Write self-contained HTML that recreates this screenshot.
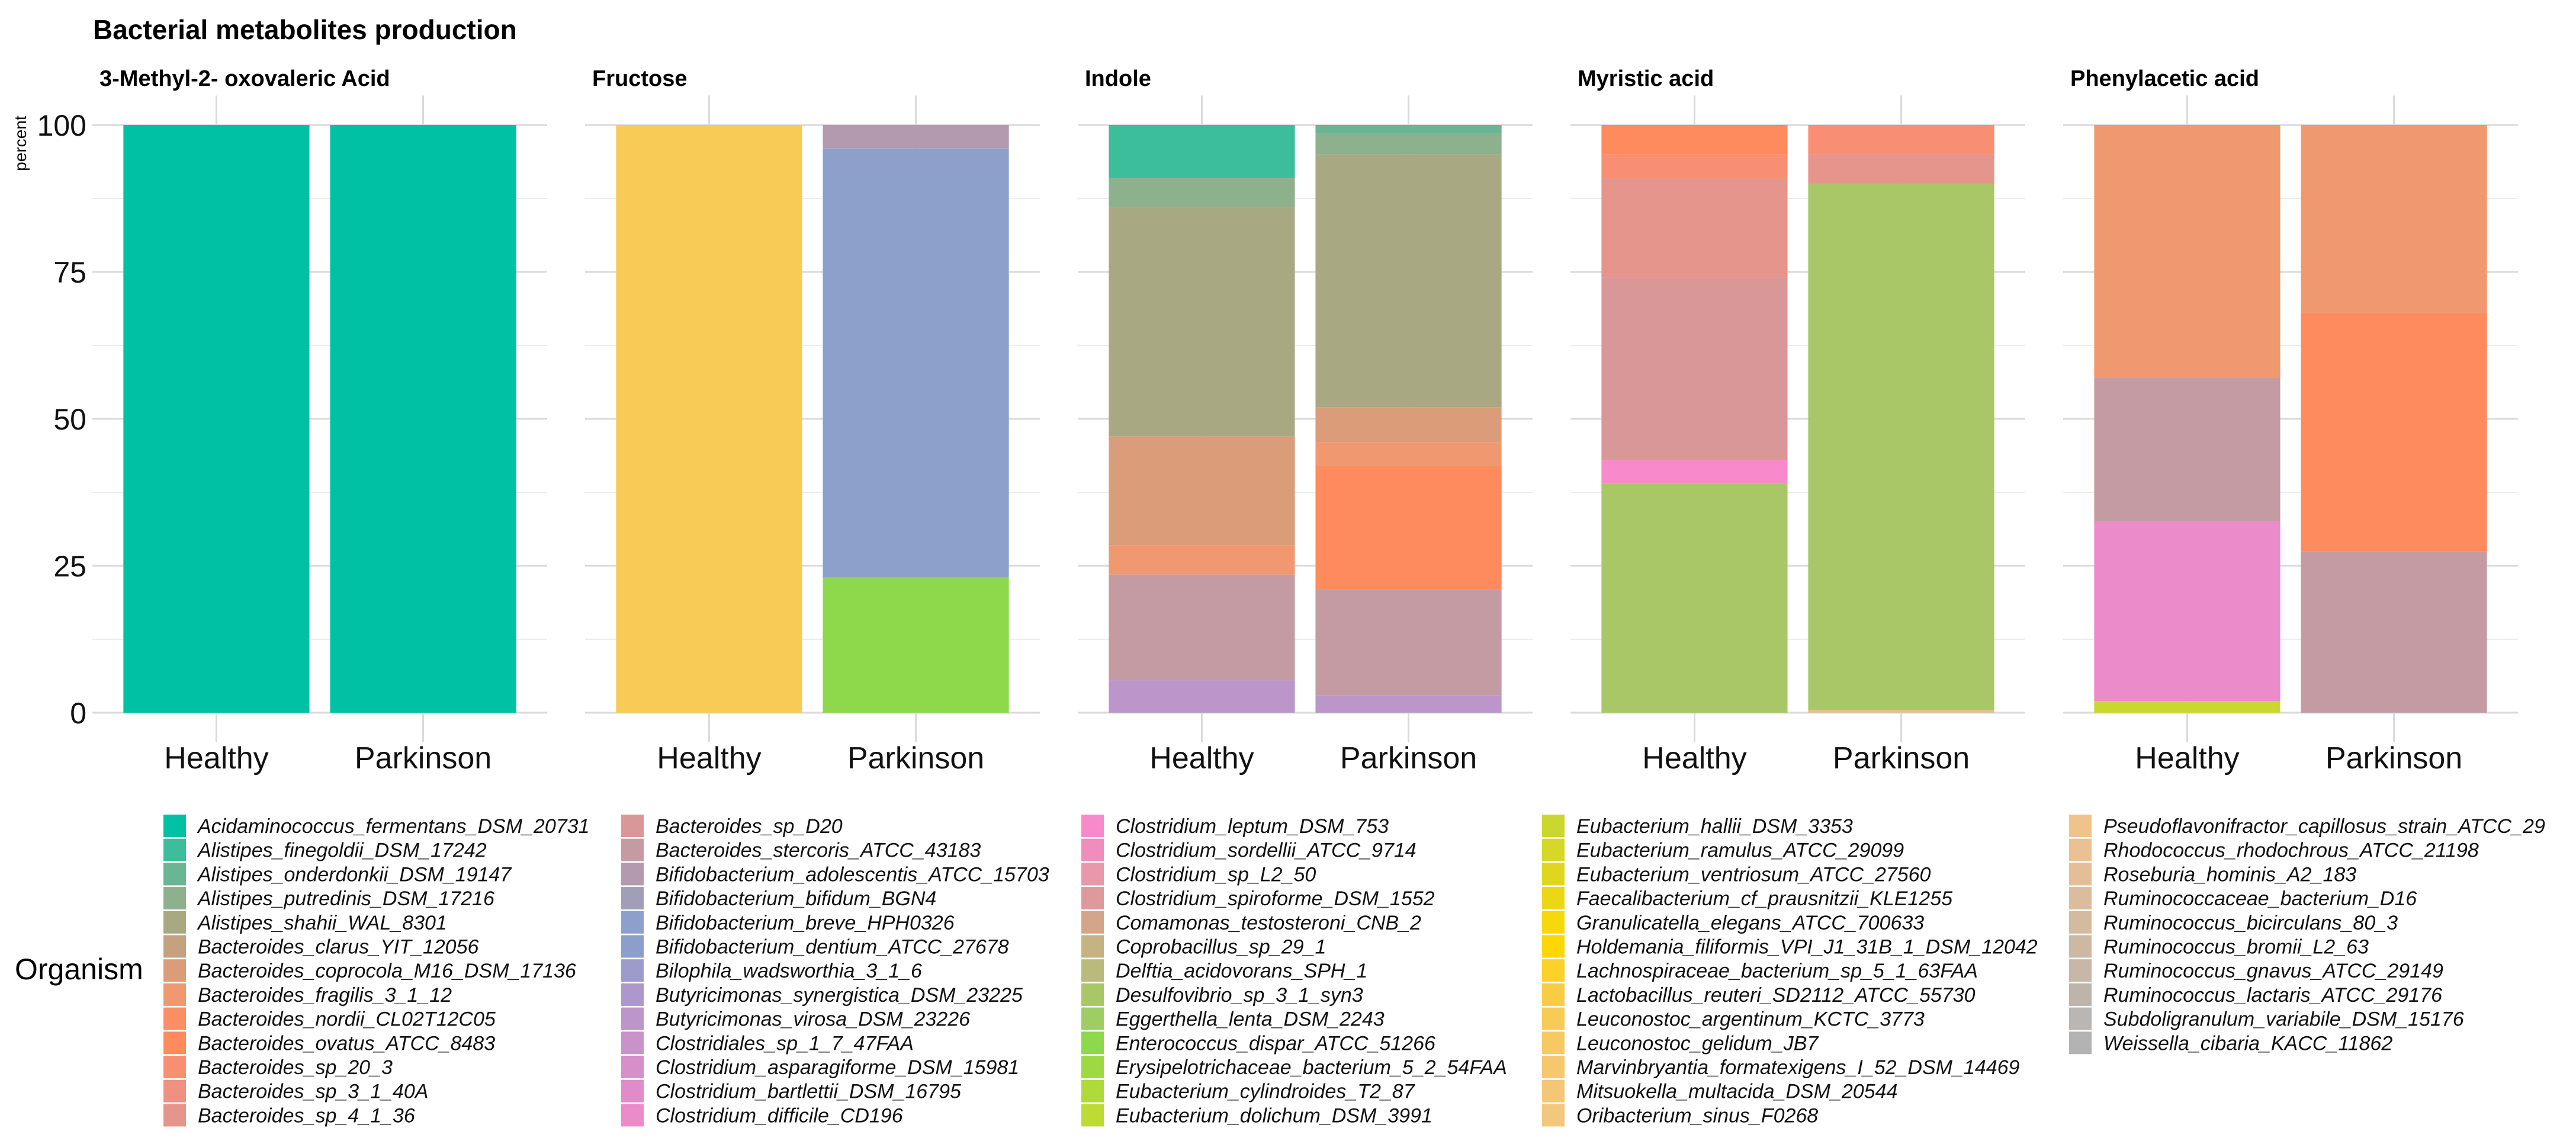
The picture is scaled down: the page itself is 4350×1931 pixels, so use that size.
<!DOCTYPE html>
<html><head><meta charset="utf-8"><style>
html,body{margin:0;padding:0;background:#fff;}
svg text{font-family:"Liberation Sans",Arial,sans-serif;}
</style></head><body>
<svg id="chart" width="4350" height="1926" viewBox="0 0 4350 1926" xmlns="http://www.w3.org/2000/svg">
<rect width="4350" height="1926" fill="#fff"/>
<text x="157" y="66" font-size="46" font-weight="bold" fill="#000">Bacterial metabolites production</text>
<text transform="translate(44,242) rotate(-90)" text-anchor="middle" font-size="28" fill="#000">percent</text>
<text x="25" y="1653" font-size="50" fill="#000">Organism</text>
<g id="panels"></g>
<g id="legend"></g>
</svg>
<script>
const organisms = ["Acidaminococcus_fermentans_DSM_20731","Alistipes_finegoldii_DSM_17242","Alistipes_onderdonkii_DSM_19147","Alistipes_putredinis_DSM_17216","Alistipes_shahii_WAL_8301","Bacteroides_clarus_YIT_12056","Bacteroides_coprocola_M16_DSM_17136","Bacteroides_fragilis_3_1_12","Bacteroides_nordii_CL02T12C05","Bacteroides_ovatus_ATCC_8483","Bacteroides_sp_20_3","Bacteroides_sp_3_1_40A","Bacteroides_sp_4_1_36",
"Bacteroides_sp_D20","Bacteroides_stercoris_ATCC_43183","Bifidobacterium_adolescentis_ATCC_15703","Bifidobacterium_bifidum_BGN4","Bifidobacterium_breve_HPH0326","Bifidobacterium_dentium_ATCC_27678","Bilophila_wadsworthia_3_1_6","Butyricimonas_synergistica_DSM_23225","Butyricimonas_virosa_DSM_23226","Clostridiales_sp_1_7_47FAA","Clostridium_asparagiforme_DSM_15981","Clostridium_bartlettii_DSM_16795","Clostridium_difficile_CD196",
"Clostridium_leptum_DSM_753","Clostridium_sordellii_ATCC_9714","Clostridium_sp_L2_50","Clostridium_spiroforme_DSM_1552","Comamonas_testosteroni_CNB_2","Coprobacillus_sp_29_1","Delftia_acidovorans_SPH_1","Desulfovibrio_sp_3_1_syn3","Eggerthella_lenta_DSM_2243","Enterococcus_dispar_ATCC_51266","Erysipelotrichaceae_bacterium_5_2_54FAA","Eubacterium_cylindroides_T2_87","Eubacterium_dolichum_DSM_3991",
"Eubacterium_hallii_DSM_3353","Eubacterium_ramulus_ATCC_29099","Eubacterium_ventriosum_ATCC_27560","Faecalibacterium_cf_prausnitzii_KLE1255","Granulicatella_elegans_ATCC_700633","Holdemania_filiformis_VPI_J1_31B_1_DSM_12042","Lachnospiraceae_bacterium_sp_5_1_63FAA","Lactobacillus_reuteri_SD2112_ATCC_55730","Leuconostoc_argentinum_KCTC_3773","Leuconostoc_gelidum_JB7","Marvinbryantia_formatexigens_I_52_DSM_14469","Mitsuokella_multacida_DSM_20544","Oribacterium_sinus_F0268",
"Pseudoflavonifractor_capillosus_strain_ATCC_29","Rhodococcus_rhodochrous_ATCC_21198","Roseburia_hominis_A2_183","Ruminococcaceae_bacterium_D16","Ruminococcus_bicirculans_80_3","Ruminococcus_bromii_L2_63","Ruminococcus_gnavus_ATCC_29149","Ruminococcus_lactaris_ATCC_29176","Subdoligranulum_variabile_DSM_15176","Weissella_cibaria_KACC_11862"];
const colors = ["#00C1A3","#3DBE9B","#6AB594","#8DB08D","#A8A983","#C5A27F","#DB9C79","#F0986F","#FB8F63","#FE8B5E","#F98F72","#EE9181","#E5958B",
"#DA9797","#C49BA3","#B39AAE","#A09EB8","#8DA0CB","#8C9FCA","#9C9BCC","#AE98CB","#BC96CA","#C893C9","#D68FC9","#E18CC9","#EC8BCA",
"#F88ACB","#F08DBD","#E898A8","#DE9A9A","#D4A58A","#C6B383","#B9BB7C","#A9C766","#9ECE63","#8ED84C","#9ED944","#AEDA3B","#BEDA34",
"#CAD72E","#D5D826","#DFD71E","#EBD716","#F5D90A","#FCD705","#FBD12A","#F8CD45","#F7CB56","#F6C962","#F5C86D","#F3C776","#F2C77E",
"#EFC38A","#E9C192","#E3BE97","#DBBD9D","#D4BBA0","#CDB9A3","#C6B7A7","#BEB4AA","#B9B6B4","#B3B3B3"];
const metabolites = ["3-Methyl-2- oxovaleric Acid","Fructose","Indole","Myristic acid","Phenylacetic acid"];
const groups = ["Healthy","Parkinson"];
const yTicks = [0,25,50,75,100];
const yTickLabels = ["0","25","50","75","100"];
const segOrg = [
 [[0],[0]],
 [[47],[15,17,35]],
 [[1,3,4,6,7,14,21],[2,3,4,6,7,9,14,21]],
 [[9,10,12,13,26,33],[10,12,33,54]],
 [[7,14,25,39],[7,9,14]]
];
const segVal = [
 [[100],[100]],
 [[100],[4,73,23]],
 [[9,5,39,18.5,5,18,5.5],[1.5,3.5,43,6,4,21,18,3]],
 [[5,4,17,31,4,39],[5,5,89.5,0.5]],
 [[43,24.5,30.5,2],[32,40.5,27.5]]
];
const NS="http://www.w3.org/2000/svg";
function mk(tag,attrs,parent){const e=document.createElementNS(NS,tag);for(const k in attrs)e.setAttribute(k,attrs[k]);parent.appendChild(e);return e;}
const y0=1203, y100=211;
function yScale(v){return y0-(y0-y100)*v/100;}
const panelW=768, pitch=832, firstLeft=156;
const unit=panelW/2.2;
function xScale(p,g){return firstLeft+p*pitch+unit*(0.6+g);}
const panelsG=document.getElementById('panels');
for(let p=0;p<metabolites.length;p++){
  const left=firstLeft+p*pitch;
  const g=mk('g',{},panelsG);
  
  
  const st=mk('text',{x:left+12,y:145,'font-size':38,'font-weight':'bold',fill:'#000'},g);
  
  
  st.textContent=metabolites[p];
  for(let i=0;i<4;i++){
    const v=12.5+25*i;
    const l=mk('line',{x1:left,x2:left+panelW,y1:yScale(v),y2:yScale(v),stroke:'#EDEDED','stroke-width':2},g);
    
    
  }
  for(let i=0;i<yTicks.length;i++){
    const l=mk('line',{x1:left,x2:left+panelW,y1:yScale(yTicks[i]),y2:yScale(yTicks[i]),stroke:'#DADADA','stroke-width':3},g);
    
    
  }
  for(let gi=0;gi<groups.length;gi++){
    const cx=xScale(p,gi);
    const vl=mk('line',{x1:cx,x2:cx,y1:yScale(-5),y2:yScale(105),stroke:'#DADADA','stroke-width':3},g);
    
    
    const bw=unit*0.9;
    let top=100;
    const orgs=segOrg[p][gi], vals=segVal[p][gi];
    let total=vals.reduce((a,b)=>a+b,0);
    for(let s=0;s<orgs.length;s++){
      const v=vals[s]*100/total;
      const r=mk('rect',{x:cx-bw/2,y:yScale(top),width:bw,height:yScale(top-v)-yScale(top),fill:colors[orgs[s]]},g);
      
      
      const t=document.createElementNS(NS,'title');t.textContent=organisms[orgs[s]]+': '+vals[s];r.appendChild(t);
      top-=v;
    }
    const xl=mk('text',{x:cx,y:1297,'text-anchor':'middle','font-size':52,fill:'#111'},g);
    
    
    xl.textContent=groups[gi];
  }
}
for(let i=0;i<yTicks.length;i++){
  const t=mk('text',{x:146,y:yScale(yTicks[i])+18,'text-anchor':'end','font-size':50,fill:'#111'},panelsG);
  
  
  t.textContent=yTickLabels[i];
}
const legendG=document.getElementById('legend');
const colX=[276,1049,1826,2604,3494];
for(let i=0;i<organisms.length;i++){
  const c=Math.floor(i/13), r=i%13;
  const yTop=1375+r*40.7;
  const g=mk('g',{},legendG);
  
  
  const k=mk('rect',{x:colX[c],y:yTop,width:38,height:38,fill:colors[i]},g);
  
  
  const t=mk('text',{x:colX[c]+58,y:yTop+31,'font-size':34,'font-style':'italic',fill:'#111'},g);
  
  
  t.textContent=organisms[i];
}
</script>
</body></html>
